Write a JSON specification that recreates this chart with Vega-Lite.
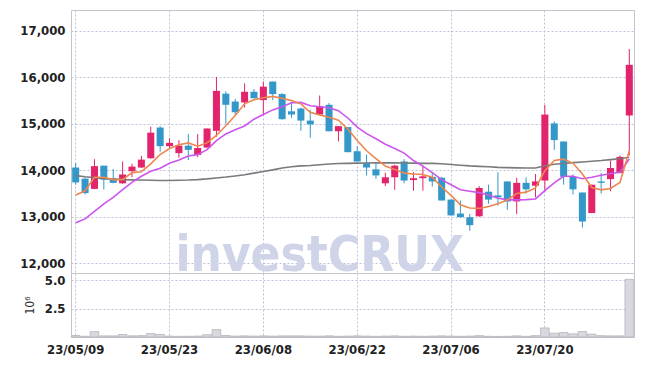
{
  "$schema": "https://vega.github.io/schema/vega-lite/v6.json",
  "padding": {"left": 19, "top": 9, "right": 10, "bottom": 5},
  "spacing": 0,
  "bounds": "flush",
  "config": {
    "view": {"stroke": "#c4c4cc"},
    "font": "DejaVu Sans Condensed",
    "axis": {"labelFont": "DejaVu Sans Condensed", "labelFontSize": 12, "labelColor": "#222222", "labelFontWeight": "bold", "ticks": false, "domain": false, "gridColor": "#bcc0d8", "gridDash": [2, 2], "gridWidth": 1, "titleFont": "DejaVu Sans Condensed", "titleColor": "#333333"}
  },
  "datasets": {
    "candles": [
      {"date": "23/05/09", "open": 14060, "high": 14160, "low": 13690, "close": 13740, "ma5": 13470, "ma20": 12870, "ma60": 13886, "vol": 0.13},
      {"date": "23/05/10", "open": 13820, "high": 13840, "low": 13480, "close": 13510, "ma5": 13560, "ma20": 12955, "ma60": 13860, "vol": 0.06},
      {"date": "23/05/11", "open": 13600, "high": 14240, "low": 13590, "close": 14090, "ma5": 13850, "ma20": 13118, "ma60": 13840, "vol": 0.48},
      {"date": "23/05/12", "open": 14100, "high": 14100, "low": 13590, "close": 13800, "ma5": 13850, "ma20": 13277, "ma60": 13820, "vol": 0.1},
      {"date": "23/05/15", "open": 13830, "high": 14030, "low": 13720, "close": 13730, "ma5": 13800, "ma20": 13419, "ma60": 13810, "vol": 0.1},
      {"date": "23/05/16", "open": 13720, "high": 14190, "low": 13710, "close": 13910, "ma5": 13800, "ma20": 13585, "ma60": 13800, "vol": 0.22},
      {"date": "23/05/17", "open": 13980, "high": 14140, "low": 13850, "close": 14080, "ma5": 13950, "ma20": 13742, "ma60": 13795, "vol": 0.1},
      {"date": "23/05/18", "open": 14060, "high": 14310, "low": 14050, "close": 14230, "ma5": 13970, "ma20": 13871, "ma60": 13790, "vol": 0.12},
      {"date": "23/05/19", "open": 14260, "high": 14940, "low": 14250, "close": 14810, "ma5": 14140, "ma20": 13978, "ma60": 13785, "vol": 0.3},
      {"date": "23/05/22", "open": 14920, "high": 14950, "low": 14400, "close": 14520, "ma5": 14340, "ma20": 14043, "ma60": 13780, "vol": 0.22},
      {"date": "23/05/23", "open": 14520, "high": 14690, "low": 14460, "close": 14590, "ma5": 14470, "ma20": 14150, "ma60": 13780, "vol": 0.08},
      {"date": "23/05/24", "open": 14370, "high": 14650, "low": 14270, "close": 14530, "ma5": 14550, "ma20": 14223, "ma60": 13785, "vol": 0.06},
      {"date": "23/05/25", "open": 14530, "high": 14780, "low": 14220, "close": 14440, "ma5": 14590, "ma20": 14309, "ma60": 13790, "vol": 0.06},
      {"date": "23/05/26", "open": 14330, "high": 14780, "low": 14280, "close": 14480, "ma5": 14520, "ma20": 14337, "ma60": 13800, "vol": 0.08},
      {"date": "23/05/30", "open": 14490, "high": 14900, "low": 14490, "close": 14900, "ma5": 14590, "ma20": 14444, "ma60": 13815, "vol": 0.2},
      {"date": "23/05/31", "open": 14850, "high": 16010, "low": 14720, "close": 15710, "ma5": 14750, "ma20": 14638, "ma60": 13836, "vol": 0.65},
      {"date": "23/06/01", "open": 15650, "high": 15700, "low": 15000, "close": 15410, "ma5": 14960, "ma20": 14782, "ma60": 13855, "vol": 0.13},
      {"date": "23/06/02", "open": 15480, "high": 15540, "low": 15180, "close": 15250, "ma5": 15180, "ma20": 14875, "ma60": 13879, "vol": 0.08},
      {"date": "23/06/05", "open": 15460, "high": 15870, "low": 15350, "close": 15690, "ma5": 15430, "ma20": 14954, "ma60": 13905, "vol": 0.1},
      {"date": "23/06/07", "open": 15690, "high": 15750, "low": 15550, "close": 15550, "ma5": 15520, "ma20": 15100, "ma60": 13940, "vol": 0.08},
      {"date": "23/06/08", "open": 15510, "high": 15910, "low": 15210, "close": 15800, "ma5": 15560, "ma20": 15200, "ma60": 13975, "vol": 0.1},
      {"date": "23/06/09", "open": 15910, "high": 15910, "low": 15510, "close": 15640, "ma5": 15590, "ma20": 15300, "ma60": 14010, "vol": 0.08},
      {"date": "23/06/12", "open": 15640, "high": 15660, "low": 15090, "close": 15100, "ma5": 15550, "ma20": 15369, "ma60": 14050, "vol": 0.1},
      {"date": "23/06/13", "open": 15270, "high": 15450, "low": 15130, "close": 15200, "ma5": 15500, "ma20": 15455, "ma60": 14075, "vol": 0.1},
      {"date": "23/06/14", "open": 15330, "high": 15350, "low": 14850, "close": 15070, "ma5": 15430, "ma20": 15462, "ma60": 14095, "vol": 0.1},
      {"date": "23/06/15", "open": 15070, "high": 15300, "low": 14700, "close": 14990, "ma5": 15250, "ma20": 15391, "ma60": 14105, "vol": 0.08},
      {"date": "23/06/16", "open": 15200, "high": 15610, "low": 15200, "close": 15380, "ma5": 15190, "ma20": 15369, "ma60": 14120, "vol": 0.08},
      {"date": "23/06/19", "open": 15410, "high": 15450, "low": 14840, "close": 14840, "ma5": 15140, "ma20": 15345, "ma60": 14135, "vol": 0.1},
      {"date": "23/06/20", "open": 14840, "high": 14950, "low": 14620, "close": 14950, "ma5": 15080, "ma20": 15284, "ma60": 14145, "vol": 0.06},
      {"date": "23/06/21", "open": 14930, "high": 14930, "low": 14390, "close": 14390, "ma5": 14890, "ma20": 15126, "ma60": 14150, "vol": 0.08},
      {"date": "23/06/22", "open": 14410, "high": 14520, "low": 14190, "close": 14190, "ma5": 14640, "ma20": 14930, "ma60": 14155, "vol": 0.1},
      {"date": "23/06/23", "open": 14150, "high": 14340, "low": 13890, "close": 14060, "ma5": 14420, "ma20": 14790, "ma60": 14158, "vol": 0.08},
      {"date": "23/06/26", "open": 14020, "high": 14150, "low": 13820, "close": 13890, "ma5": 14250, "ma20": 14680, "ma60": 14159, "vol": 0.06},
      {"date": "23/06/27", "open": 13720, "high": 13950, "low": 13660, "close": 13850, "ma5": 14090, "ma20": 14560, "ma60": 14159, "vol": 0.08},
      {"date": "23/06/28", "open": 13850, "high": 14120, "low": 13580, "close": 14100, "ma5": 14020, "ma20": 14470, "ma60": 14159, "vol": 0.1},
      {"date": "23/06/29", "open": 14190, "high": 14240, "low": 13720, "close": 13780, "ma5": 13940, "ma20": 14370, "ma60": 14158, "vol": 0.06},
      {"date": "23/06/30", "open": 13790, "high": 13960, "low": 13560, "close": 13830, "ma5": 13920, "ma20": 14210, "ma60": 14155, "vol": 0.08},
      {"date": "23/07/03", "open": 13830, "high": 14100, "low": 13560, "close": 13870, "ma5": 13910, "ma20": 14090, "ma60": 14150, "vol": 0.06},
      {"date": "23/07/04", "open": 13860, "high": 13940, "low": 13650, "close": 13760, "ma5": 13850, "ma20": 13950, "ma60": 14150, "vol": 0.08},
      {"date": "23/07/05", "open": 13840, "high": 13860, "low": 13350, "close": 13350, "ma5": 13640, "ma20": 13800, "ma60": 14140, "vol": 0.1},
      {"date": "23/07/06", "open": 13370, "high": 13370, "low": 13030, "close": 13030, "ma5": 13460, "ma20": 13690, "ma60": 14125, "vol": 0.08},
      {"date": "23/07/07", "open": 13070, "high": 13350, "low": 12990, "close": 12990, "ma5": 13260, "ma20": 13580, "ma60": 14110, "vol": 0.06},
      {"date": "23/07/10", "open": 12990, "high": 13060, "low": 12700, "close": 12820, "ma5": 13190, "ma20": 13550, "ma60": 14095, "vol": 0.08},
      {"date": "23/07/11", "open": 13010, "high": 13660, "low": 13000, "close": 13620, "ma5": 13180, "ma20": 13520, "ma60": 14085, "vol": 0.12},
      {"date": "23/07/12", "open": 13540, "high": 13690, "low": 13280, "close": 13370, "ma5": 13220, "ma20": 13470, "ma60": 14075, "vol": 0.06},
      {"date": "23/07/13", "open": 13460, "high": 13960, "low": 13240, "close": 13420, "ma5": 13280, "ma20": 13400, "ma60": 14064, "vol": 0.05},
      {"date": "23/07/14", "open": 13760, "high": 13760, "low": 13150, "close": 13330, "ma5": 13360, "ma20": 13370, "ma60": 14058, "vol": 0.06},
      {"date": "23/07/17", "open": 13330, "high": 13840, "low": 13060, "close": 13730, "ma5": 13500, "ma20": 13363, "ma60": 14052, "vol": 0.1},
      {"date": "23/07/18", "open": 13730, "high": 13850, "low": 13500, "close": 13590, "ma5": 13530, "ma20": 13370, "ma60": 14050, "vol": 0.06},
      {"date": "23/07/19", "open": 13670, "high": 13920, "low": 13420, "close": 13760, "ma5": 13620, "ma20": 13384, "ma60": 14050, "vol": 0.12},
      {"date": "23/07/20", "open": 13780, "high": 15410, "low": 13530, "close": 15200, "ma5": 13990, "ma20": 13563, "ma60": 14100, "vol": 0.8},
      {"date": "23/07/21", "open": 15010, "high": 15050, "low": 14440, "close": 14650, "ma5": 14210, "ma20": 13730, "ma60": 14130, "vol": 0.33},
      {"date": "23/07/24", "open": 14620, "high": 14620, "low": 13690, "close": 13860, "ma5": 14240, "ma20": 13871, "ma60": 14145, "vol": 0.4},
      {"date": "23/07/25", "open": 13860, "high": 13910, "low": 13480, "close": 13590, "ma5": 14150, "ma20": 13871, "ma60": 14165, "vol": 0.28},
      {"date": "23/07/26", "open": 13520, "high": 13520, "low": 12770, "close": 12900, "ma5": 13920, "ma20": 13820, "ma60": 14180, "vol": 0.48},
      {"date": "23/07/27", "open": 13080, "high": 13690, "low": 13080, "close": 13690, "ma5": 13630, "ma20": 13849, "ma60": 14195, "vol": 0.25},
      {"date": "23/07/28", "open": 13760, "high": 13940, "low": 13500, "close": 13730, "ma5": 13580, "ma20": 13895, "ma60": 14210, "vol": 0.12},
      {"date": "23/07/31", "open": 13810, "high": 14210, "low": 13550, "close": 14050, "ma5": 13610, "ma20": 13930, "ma60": 14230, "vol": 0.1},
      {"date": "23/08/01", "open": 13940, "high": 14320, "low": 13940, "close": 14290, "ma5": 13740, "ma20": 13960, "ma60": 14250, "vol": 0.1},
      {"date": "23/08/02", "open": 15180, "high": 16610, "low": 14320, "close": 16270, "ma5": 14420, "ma20": 14245, "ma60": 14280, "vol": 5.1}
    ]
  },
  "vconcat": [
    {
      "width": 563,
      "height": 263,
      "data": {"name": "candles"},
      "encoding": {
        "x": {"field": "date", "type": "ordinal", "sort": "ascending", "scale": {"paddingInner": 0, "paddingOuter": 0}, "axis": {"values": ["23/05/09", "23/05/23", "23/06/08", "23/06/22", "23/07/06", "23/07/20"], "labels": false, "title": null, "grid": true, "bandPosition": 0.5}}
      },
      "layer": [
        {
          "transform": [{"filter": "datum.date == '23/06/16'"}],
          "mark": {"type": "text", "font": "DejaVu Sans Condensed", "fontWeight": "bold", "fontSize": 49, "color": "#cfd4e8", "baseline": "alphabetic", "align": "center"},
          "encoding": {
            "y": {"datum": 11830, "type": "quantitative", "scale": {"domain": [11790, 17450], "zero": false, "nice": false}},
            "text": {"value": "investCRUX"}
          }
        },
        {
          "mark": {"type": "rule", "strokeWidth": 1},
          "encoding": {
            "y": {"field": "low", "type": "quantitative", "scale": {"domain": [11790, 17450], "zero": false, "nice": false}, "axis": {"values": [12000, 13000, 14000, 15000, 16000, 17000], "format": ",d", "title": null, "grid": true, "labelPadding": 6, "labelFontSize": 13}},
            "y2": {"field": "high"},
            "color": {"condition": {"test": "datum.close >= datum.open", "value": "#e2246c"}, "value": "#3398c9"}
          }
        },
        {
          "mark": {"type": "bar", "width": {"band": 0.75}, "strokeWidth": 0.5},
          "encoding": {
            "y": {"field": "open", "type": "quantitative", "scale": {"domain": [11790, 17450], "zero": false, "nice": false}},
            "y2": {"field": "close"},
            "color": {"condition": {"test": "datum.close >= datum.open", "value": "#e2246c"}, "value": "#3398c9"}
          }
        },
        {
          "mark": {"type": "line", "strokeWidth": 1.6, "color": "#7a7a7a"},
          "encoding": {
            "y": {"field": "ma60", "type": "quantitative", "scale": {"domain": [11790, 17450], "zero": false, "nice": false}}
          }
        },
        {
          "mark": {"type": "line", "strokeWidth": 1.6, "color": "#cc55ee"},
          "encoding": {
            "y": {"field": "ma20", "type": "quantitative", "scale": {"domain": [11790, 17450], "zero": false, "nice": false}}
          }
        },
        {
          "mark": {"type": "line", "strokeWidth": 1.6, "color": "#ee8650"},
          "encoding": {
            "y": {"field": "ma5", "type": "quantitative", "scale": {"domain": [11790, 17450], "zero": false, "nice": false}}
          }
        }
      ]
    },
    {
      "width": 563,
      "height": 64,
      "data": {"name": "candles"},
      "mark": {"type": "bar", "width": {"band": 0.92}, "fill": "#d8d8de", "stroke": "#b4b4bc", "strokeWidth": 0.8},
      "encoding": {
        "x": {"field": "date", "type": "ordinal", "sort": "ascending", "scale": {"paddingInner": 0, "paddingOuter": 0}, "axis": {"values": ["23/05/09", "23/05/23", "23/06/08", "23/06/22", "23/07/06", "23/07/20"], "title": null, "grid": true, "bandPosition": 0.5, "labelAngle": 0, "labelPadding": 6, "labelFontSize": 13}},
        "y": {"field": "vol", "type": "quantitative", "scale": {"domain": [0, 5.66], "nice": false}, "axis": {"values": [2.5, 5], "format": ".1f", "title": "10⁶", "titleFontWeight": "normal", "titleFontSize": 12, "titlePadding": 8, "grid": true, "labelPadding": 6, "labelFontSize": 13}}
      }
    }
  ]
}
